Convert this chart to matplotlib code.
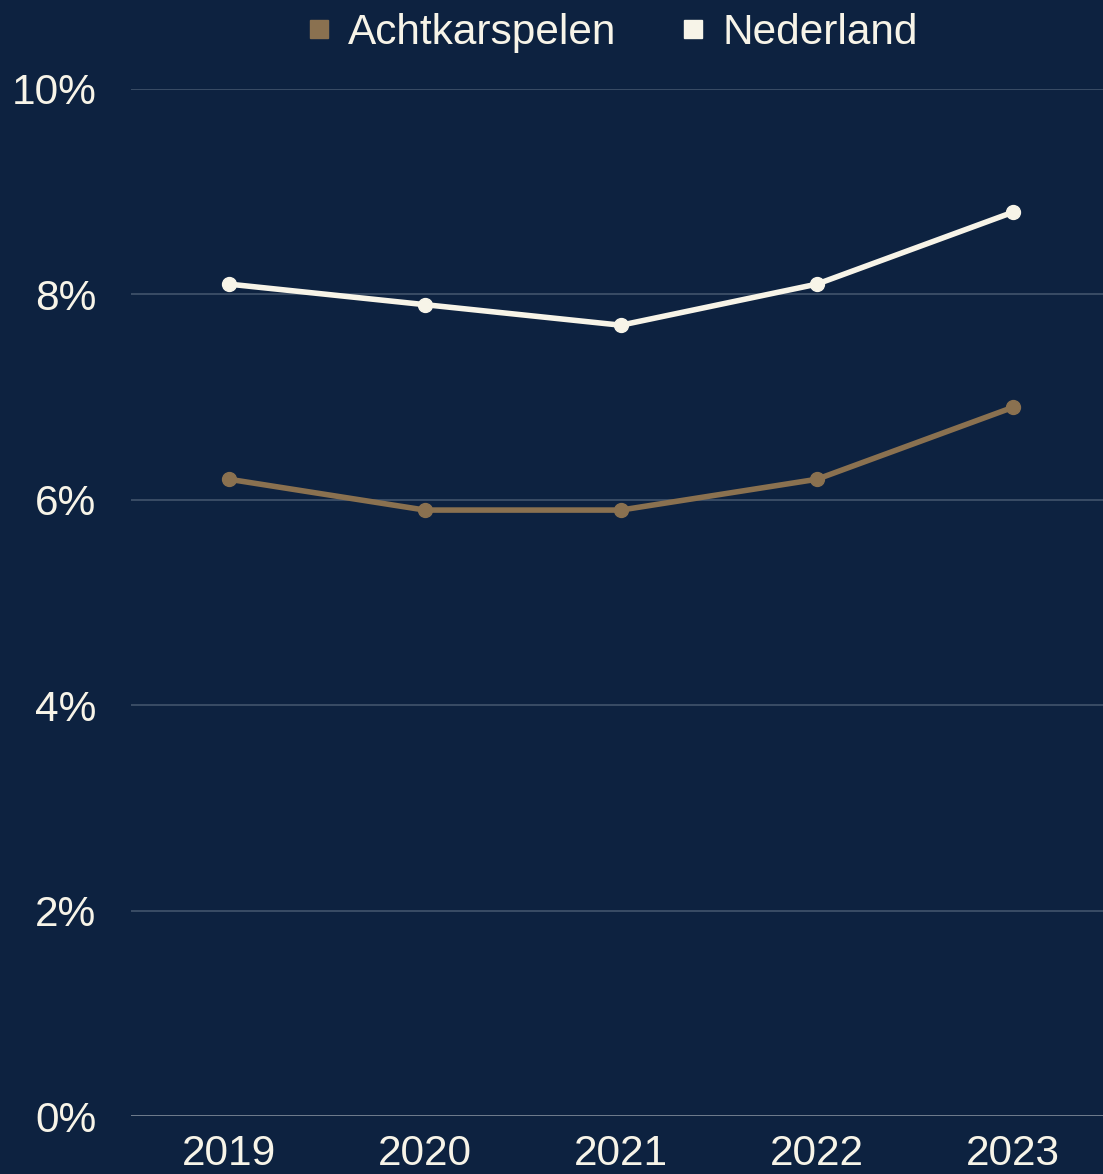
import matplotlib.pyplot as plt
from matplotlib.lines import Line2D
from matplotlib import font_manager

years = ['2019', '2020', '2021', '2022', '2023']
achtkarspelen = [6.2, 5.9, 5.9, 6.2, 6.9]
nederland = [8.1, 7.9, 7.7, 8.1, 8.8]
yticks = [0, 2, 4, 6, 8, 10]

bg = '#0d2240'
brown = '#8a7150'
cream = '#f7f4e8'

names = {f.name for f in font_manager.fontManager.ttflist}
family = 'Liberation Sans Narrow' if 'Liberation Sans Narrow' in names else 'Liberation Sans'
plt.rcParams['font.family'] = [family, 'DejaVu Sans']

fig = plt.figure(figsize=(11.03, 11.74), dpi=100, facecolor=bg)
ax = fig.add_axes([0.1188, 0.0494, 0.8812, 0.8748])
ax.set_facecolor(bg)

x = list(range(len(years)))
ax.plot(x, achtkarspelen, color=brown, lw=4, marker='o', ms=10, zorder=3)
ax.plot(x, nederland, color=cream, lw=4, marker='o', ms=10, zorder=3)

ax.set_xlim(-0.5, 4.46)
ax.set_ylim(0, 10)
ax.set_yticks(yticks)
ax.set_yticklabels([f'{v}%' for v in yticks])
ax.set_xticks(x)
ax.set_xticklabels(years)
for v in yticks[1:]:
    ax.axhline(v, color='#3d5068', lw=1.3, zorder=1)
ax.axhline(0, color='#8d98a5', lw=1.8, zorder=1)

for s in ax.spines.values():
    s.set_visible(False)
ax.tick_params(axis='both', length=0, colors=cream, labelsize=30.5)
ax.tick_params(axis='y', pad=25)
ax.tick_params(axis='x', pad=13)

handles = [Line2D([], [], ls='none', marker='s', ms=13, color=brown),
           Line2D([], [], ls='none', marker='s', ms=13, color=cream)]
fig.legend(handles, ['Achtkarspelen', 'Nederland'], loc='center', bbox_to_anchor=(0.551, 0.972),
           ncol=2, frameon=False, fontsize=30.5, labelcolor=cream, handletextpad=0.2,
           columnspacing=1.3, handlelength=1.0)

fig.savefig('out.png', dpi=100, facecolor=bg)
